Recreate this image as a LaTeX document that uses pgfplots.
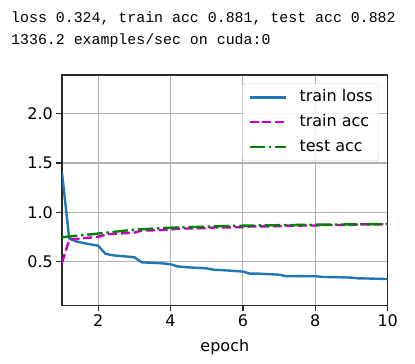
\documentclass[border=0pt]{standalone}
\usepackage{fontspec}
\setmainfont{DejaVu Sans}
\newfontfamily\monofont{Liberation Mono}
\usepackage{pgfplots}
\pgfplotsset{compat=1.18}
\definecolor{tabblue}{RGB}{31,119,180}
\definecolor{mplm}{RGB}{191,0,191}
\definecolor{mplg}{RGB}{0,128,0}
\definecolor{gridc}{RGB}{176,176,176}
\definecolor{spine}{RGB}{40,40,40}
\begin{document}
\begin{tikzpicture}
\path[use as bounding box] (0,0) rectangle (415bp,364bp);
\node[anchor=base west, inner sep=0pt] at (11bp,341.3bp) {\monofont\fontsize{14.9bp}{18bp}\selectfont loss 0.324, train acc 0.881, test acc 0.882};
\node[anchor=base west, inner sep=0pt] at (11bp,319.7bp) {\monofont\fontsize{14.9bp}{18bp}\selectfont 1336.2 examples/sec on cuda:0};
\begin{axis}[
  at={(62bp,58.3bp)}, anchor=south west,
  scale only axis, width=325.7bp, height=230.7bp,
  xmin=1, xmax=10, ymin=0.054, ymax=2.392,
  xtick={2,4,6,8,10},
  ytick={0.5,1.0,1.5,2.0},
  yticklabel style={/pgf/number format/.cd, fixed, fixed zerofill, precision=1},
  /pgf/number format/assume math mode=true,
  tick label style={font=\fontsize{16bp}{19bp}\selectfont},
  label style={font=\fontsize{16bp}{19bp}\selectfont},
  xlabel={epoch},
  xlabel style={yshift=-6bp},
  tick pos=left, tick align=outside,
  major tick length=5.6bp,
  every tick/.style={spine, line width=1.3bp},
  axis line style={spine, line width=1.3bp},
  grid=major,
  major grid style={gridc, line width=1.1bp},
  legend cell align=left,
  legend image code/.code={\draw[#1] (0bp,0bp) -- (36bp,0bp);},
  legend style={at={(1,1)}, anchor=north east, xshift=-8.7bp, yshift=-8.3bp,
    font=\fontsize{16bp}{19bp}\selectfont,
    draw=black!20, rounded corners=3bp, fill=white, fill opacity=0.8, text opacity=1,
    inner xsep=6bp, inner ysep=6.5bp,
    nodes={inner sep=0bp, text height=12bp, text depth=3bp},
    row sep=9.7bp, column sep=12.7bp},
]
\addplot[tabblue, line width=2.4bp] coordinates {
(1.0,1.40) (1.2,0.737) (1.4,0.705) (1.6,0.688) (1.8,0.675) (2.0,0.662)
(2.2,0.580) (2.4,0.565) (2.6,0.558) (2.8,0.552) (3.0,0.545)
(3.2,0.494) (3.4,0.490) (3.6,0.487) (3.8,0.482) (4.0,0.474)
(4.2,0.452) (4.4,0.445) (4.6,0.440) (4.8,0.437) (5.0,0.432)
(5.2,0.418) (5.4,0.415) (5.6,0.410) (5.8,0.405) (6.0,0.400)
(6.2,0.378) (6.4,0.380) (6.6,0.375) (6.8,0.372) (7.0,0.368)
(7.2,0.352) (7.4,0.353) (7.6,0.354) (7.8,0.352) (8.0,0.353)
(8.2,0.345) (8.4,0.344) (8.6,0.343) (8.8,0.341) (9.0,0.338)
(9.2,0.331) (9.4,0.330) (9.6,0.328) (9.8,0.326) (10.0,0.324)
};
\addlegendentry{train loss}
\addplot[mplm, line width=2.4bp, dash pattern=on 8.9bp off 3.8bp] coordinates {
(1.0,0.49) (1.2,0.722) (1.4,0.730) (1.6,0.738) (1.8,0.745) (2.0,0.752)
(2.2,0.775) (2.4,0.782) (2.6,0.786) (2.8,0.790) (3.0,0.795)
(3.2,0.815) (3.4,0.817) (3.6,0.819) (3.8,0.821) (4.0,0.825)
(4.2,0.835) (4.4,0.836) (4.6,0.838) (4.8,0.839) (5.0,0.840)
(5.2,0.846) (5.4,0.847) (5.6,0.848) (5.8,0.849) (6.0,0.851)
(6.2,0.857) (6.4,0.858) (6.6,0.858) (6.8,0.859) (7.0,0.860)
(7.2,0.866) (7.4,0.866) (7.6,0.866) (7.8,0.867) (8.0,0.867)
(8.2,0.872) (8.4,0.872) (8.6,0.872) (8.8,0.872) (9.0,0.873)
(9.2,0.878) (9.4,0.878) (9.6,0.878) (9.8,0.879) (10.0,0.881)
};
\addlegendentry{train acc}
\addplot[mplg, line width=2.4bp, dash pattern=on 15.4bp off 3.8bp on 2.4bp off 3.8bp] coordinates {
(1,0.747) (2,0.785) (3,0.825) (4,0.845) (5,0.855) (6,0.865) (7,0.870) (8,0.875) (9,0.878) (10,0.882)
};
\addlegendentry{test acc}
\end{axis}
\end{tikzpicture}
\end{document}
